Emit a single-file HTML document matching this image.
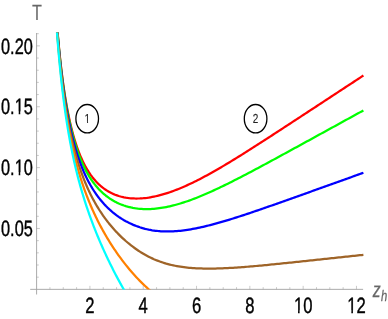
<!DOCTYPE html>
<html><head><meta charset="utf-8"><style>
html,body{margin:0;padding:0;background:#fff;}
svg{display:block;font-family:"Liberation Sans",sans-serif;text-rendering:geometricPrecision;}
</style></head><body>
<svg width="388" height="319" viewBox="0 0 388 319">
<rect width="388" height="319" fill="#fff"/>
<defs><clipPath id="c"><rect x="30" y="32.6" width="340" height="256.9"/></clipPath></defs>
<g stroke="#a0a0a0" stroke-width="0.9" fill="none">
<line x1="30.2" y1="289.35" x2="363.1" y2="289.35"/>
<line x1="36.6" y1="33.0" x2="36.6" y2="294.5"/>
<line x1="49.93" y1="289.35" x2="49.93" y2="287.15" stroke-width="0.55"/>
<line x1="63.26" y1="289.35" x2="63.26" y2="287.15" stroke-width="0.55"/>
<line x1="76.58" y1="289.35" x2="76.58" y2="287.15" stroke-width="0.55"/>
<line x1="89.91" y1="289.35" x2="89.91" y2="285.85" stroke-width="0.55"/>
<line x1="103.24" y1="289.35" x2="103.24" y2="287.15" stroke-width="0.55"/>
<line x1="116.57" y1="289.35" x2="116.57" y2="287.15" stroke-width="0.55"/>
<line x1="129.90" y1="289.35" x2="129.90" y2="287.15" stroke-width="0.55"/>
<line x1="143.22" y1="289.35" x2="143.22" y2="285.85" stroke-width="0.55"/>
<line x1="156.55" y1="289.35" x2="156.55" y2="287.15" stroke-width="0.55"/>
<line x1="169.88" y1="289.35" x2="169.88" y2="287.15" stroke-width="0.55"/>
<line x1="183.21" y1="289.35" x2="183.21" y2="287.15" stroke-width="0.55"/>
<line x1="196.54" y1="289.35" x2="196.54" y2="285.85" stroke-width="0.55"/>
<line x1="209.86" y1="289.35" x2="209.86" y2="287.15" stroke-width="0.55"/>
<line x1="223.19" y1="289.35" x2="223.19" y2="287.15" stroke-width="0.55"/>
<line x1="236.52" y1="289.35" x2="236.52" y2="287.15" stroke-width="0.55"/>
<line x1="249.85" y1="289.35" x2="249.85" y2="285.85" stroke-width="0.55"/>
<line x1="263.18" y1="289.35" x2="263.18" y2="287.15" stroke-width="0.55"/>
<line x1="276.50" y1="289.35" x2="276.50" y2="287.15" stroke-width="0.55"/>
<line x1="289.83" y1="289.35" x2="289.83" y2="287.15" stroke-width="0.55"/>
<line x1="303.16" y1="289.35" x2="303.16" y2="285.85" stroke-width="0.55"/>
<line x1="316.49" y1="289.35" x2="316.49" y2="287.15" stroke-width="0.55"/>
<line x1="329.82" y1="289.35" x2="329.82" y2="287.15" stroke-width="0.55"/>
<line x1="343.14" y1="289.35" x2="343.14" y2="287.15" stroke-width="0.55"/>
<line x1="356.47" y1="289.35" x2="356.47" y2="285.85" stroke-width="0.55"/>
<line x1="36.6" y1="277.18" x2="38.80" y2="277.18" stroke-width="0.55"/>
<line x1="36.6" y1="265.00" x2="38.80" y2="265.00" stroke-width="0.55"/>
<line x1="36.6" y1="252.83" x2="38.80" y2="252.83" stroke-width="0.55"/>
<line x1="36.6" y1="240.65" x2="38.80" y2="240.65" stroke-width="0.55"/>
<line x1="36.6" y1="228.48" x2="39.90" y2="228.48" stroke-width="0.55"/>
<line x1="36.6" y1="216.31" x2="38.80" y2="216.31" stroke-width="0.55"/>
<line x1="36.6" y1="204.13" x2="38.80" y2="204.13" stroke-width="0.55"/>
<line x1="36.6" y1="191.96" x2="38.80" y2="191.96" stroke-width="0.55"/>
<line x1="36.6" y1="179.78" x2="38.80" y2="179.78" stroke-width="0.55"/>
<line x1="36.6" y1="167.61" x2="39.90" y2="167.61" stroke-width="0.55"/>
<line x1="36.6" y1="155.44" x2="38.80" y2="155.44" stroke-width="0.55"/>
<line x1="36.6" y1="143.26" x2="38.80" y2="143.26" stroke-width="0.55"/>
<line x1="36.6" y1="131.09" x2="38.80" y2="131.09" stroke-width="0.55"/>
<line x1="36.6" y1="118.91" x2="38.80" y2="118.91" stroke-width="0.55"/>
<line x1="36.6" y1="106.74" x2="39.90" y2="106.74" stroke-width="0.55"/>
<line x1="36.6" y1="94.57" x2="38.80" y2="94.57" stroke-width="0.55"/>
<line x1="36.6" y1="82.39" x2="38.80" y2="82.39" stroke-width="0.55"/>
<line x1="36.6" y1="70.22" x2="38.80" y2="70.22" stroke-width="0.55"/>
<line x1="36.6" y1="58.04" x2="38.80" y2="58.04" stroke-width="0.55"/>
<line x1="36.6" y1="45.87" x2="39.90" y2="45.87" stroke-width="0.55"/>
<line x1="36.6" y1="33.70" x2="38.80" y2="33.70" stroke-width="0.55"/>
</g>
<g clip-path="url(#c)"><g fill="none" stroke-width="2.25" stroke-linejoin="round" transform="translate(0.4,0.4)">
<path d="M52.59 -38.85 L53.24 -26.53 L53.89 -15.14 L54.53 -4.59 L55.18 5.21 L55.82 14.34 L56.47 22.86 L57.12 30.83 L57.76 38.30 L58.41 45.31 L59.06 51.90 L59.70 58.12 L60.35 63.98 L60.99 69.52 L61.64 74.77 L62.29 79.74 L62.93 84.45 L63.58 88.92 L64.23 93.18 L64.87 97.23 L65.52 101.09 L66.16 104.77 L66.81 108.28 L67.46 111.64 L68.10 114.85 L68.75 117.92 L69.39 120.86 L70.04 123.67 L70.69 126.37 L71.33 128.96 L71.98 131.45 L72.63 133.84 L73.27 136.14 L73.92 138.35 L74.56 140.47 L75.21 142.51 L75.86 144.48 L76.50 146.38 L77.15 148.21 L77.80 149.97 L78.44 151.67 L79.09 153.32 L79.73 154.90 L80.38 156.43 L81.03 157.91 L81.67 159.34 L82.32 160.72 L82.97 162.05 L83.61 163.34 L84.26 164.59 L84.90 165.79 L85.55 166.96 L86.20 168.09 L86.84 169.18 L87.49 170.24 L88.13 171.27 L88.78 172.26 L89.43 173.22 L90.07 174.16 L90.72 175.06 L91.37 175.93 L92.01 176.78 L92.66 177.60 L93.30 178.40 L93.95 179.17 L94.60 179.91 L95.24 180.64 L95.89 181.34 L96.54 182.02 L97.18 182.68 L97.83 183.31 L98.47 183.93 L99.12 184.53 L99.77 185.11 L100.41 185.67 L101.06 186.22 L101.71 186.75 L102.35 187.26 L103.00 187.75 L103.64 188.23 L104.29 188.69 L104.94 189.14 L105.58 189.57 L106.23 189.99 L106.87 190.40 L107.52 190.79 L108.17 191.17 L108.81 191.53 L109.46 191.88 L110.11 192.22 L110.75 192.55 L111.40 192.87 L112.04 193.17 L112.69 193.47 L113.34 193.75 L113.98 194.02 L114.63 194.28 L115.28 194.53 L115.92 194.77 L116.57 195.00 L118.33 195.58 L120.09 196.10 L121.85 196.54 L123.61 196.93 L125.37 197.25 L127.13 197.52 L128.89 197.74 L130.65 197.90 L132.41 198.02 L134.17 198.09 L135.93 198.12 L137.69 198.10 L139.45 198.04 L141.21 197.93 L142.97 197.80 L144.73 197.62 L146.49 197.41 L148.25 197.16 L150.01 196.87 L151.77 196.56 L153.53 196.21 L155.29 195.84 L157.05 195.43 L158.81 194.99 L160.57 194.53 L162.33 194.04 L164.09 193.52 L165.85 192.98 L167.62 192.41 L169.38 191.82 L171.14 191.21 L172.90 190.57 L174.66 189.91 L176.42 189.23 L178.18 188.53 L179.94 187.81 L181.70 187.07 L183.46 186.31 L185.22 185.53 L186.98 184.74 L188.74 183.93 L190.50 183.10 L192.26 182.26 L194.02 181.40 L195.78 180.52 L197.54 179.63 L199.30 178.73 L201.06 177.82 L202.82 176.89 L204.58 175.95 L206.34 175.00 L208.10 174.04 L209.86 173.06 L211.62 172.08 L213.38 171.09 L215.14 170.09 L216.90 169.07 L218.66 168.05 L220.42 167.03 L222.18 165.99 L223.94 164.95 L225.70 163.90 L227.46 162.84 L229.22 161.78 L230.98 160.71 L232.74 159.63 L234.50 158.55 L236.26 157.47 L238.03 156.37 L239.79 155.28 L241.55 154.18 L243.31 153.08 L245.07 151.97 L246.83 150.86 L248.59 149.75 L250.35 148.63 L252.11 147.51 L253.87 146.39 L255.63 145.26 L257.39 144.14 L259.15 143.01 L260.91 141.88 L262.67 140.74 L264.43 139.61 L266.19 138.47 L267.95 137.33 L269.71 136.19 L271.47 135.05 L273.23 133.91 L274.99 132.76 L276.75 131.62 L278.51 130.47 L280.27 129.33 L282.03 128.18 L283.79 127.03 L285.55 125.88 L287.31 124.74 L289.07 123.59 L290.83 122.44 L292.59 121.28 L294.35 120.13 L296.11 118.98 L297.87 117.83 L299.63 116.68 L301.39 115.52 L303.15 114.37 L304.91 113.22 L306.67 112.07 L308.44 110.91 L310.20 109.76 L311.96 108.60 L313.72 107.45 L315.48 106.30 L317.24 105.14 L319.00 103.99 L320.76 102.83 L322.52 101.68 L324.28 100.52 L326.04 99.37 L327.80 98.21 L329.56 97.06 L331.32 95.90 L333.08 94.75 L334.84 93.59 L336.60 92.44 L338.36 91.28 L340.12 90.13 L341.88 88.97 L343.64 87.82 L345.40 86.66 L347.16 85.51 L348.92 84.35 L350.68 83.20 L352.44 82.04 L354.20 80.89 L355.96 79.73 L357.72 78.58 L359.48 77.42 L361.24 76.27 L363.00 75.11" stroke="#ff0000"/>
<path d="M52.59 -38.39 L53.24 -26.03 L53.89 -14.60 L54.53 -4.02 L55.18 5.82 L55.82 14.99 L56.47 23.55 L57.12 31.55 L57.76 39.06 L58.41 46.12 L59.06 52.76 L59.70 59.02 L60.35 64.93 L60.99 70.51 L61.64 75.80 L62.29 80.82 L62.93 85.58 L63.58 90.10 L64.23 94.41 L64.87 98.51 L65.52 102.42 L66.16 106.16 L66.81 109.72 L67.46 113.13 L68.10 116.40 L68.75 119.52 L69.39 122.52 L70.04 125.39 L70.69 128.15 L71.33 130.80 L71.98 133.35 L72.63 135.80 L73.27 138.15 L73.92 140.42 L74.56 142.61 L75.21 144.72 L75.86 146.75 L76.50 148.71 L77.15 150.61 L77.80 152.44 L78.44 154.20 L79.09 155.91 L79.73 157.56 L80.38 159.16 L81.03 160.71 L81.67 162.20 L82.32 163.65 L82.97 165.06 L83.61 166.42 L84.26 167.74 L84.90 169.02 L85.55 170.26 L86.20 171.46 L86.84 172.63 L87.49 173.76 L88.13 174.86 L88.78 175.93 L89.43 176.97 L90.07 177.97 L90.72 178.95 L91.37 179.90 L92.01 180.83 L92.66 181.73 L93.30 182.60 L93.95 183.45 L94.60 184.28 L95.24 185.08 L95.89 185.86 L96.54 186.62 L97.18 187.36 L97.83 188.08 L98.47 188.78 L99.12 189.46 L99.77 190.12 L100.41 190.77 L101.06 191.39 L101.71 192.01 L102.35 192.60 L103.00 193.18 L103.64 193.74 L104.29 194.29 L104.94 194.82 L105.58 195.34 L106.23 195.84 L106.87 196.33 L107.52 196.81 L108.17 197.27 L108.81 197.72 L109.46 198.16 L110.11 198.59 L110.75 199.00 L111.40 199.41 L112.04 199.80 L112.69 200.18 L113.34 200.55 L113.98 200.91 L114.63 201.26 L115.28 201.60 L115.92 201.92 L116.57 202.24 L118.33 203.06 L120.09 203.81 L121.85 204.50 L123.61 205.13 L125.37 205.70 L127.13 206.21 L128.89 206.66 L130.65 207.07 L132.41 207.43 L134.17 207.74 L135.93 208.00 L137.69 208.22 L139.45 208.39 L141.21 208.52 L142.97 208.62 L144.73 208.67 L146.49 208.69 L148.25 208.67 L150.01 208.61 L151.77 208.52 L153.53 208.40 L155.29 208.24 L157.05 208.05 L158.81 207.83 L160.57 207.58 L162.33 207.30 L164.09 206.99 L165.85 206.66 L167.62 206.30 L169.38 205.91 L171.14 205.50 L172.90 205.06 L174.66 204.60 L176.42 204.12 L178.18 203.62 L179.94 203.09 L181.70 202.55 L183.46 201.98 L185.22 201.40 L186.98 200.80 L188.74 200.18 L190.50 199.54 L192.26 198.89 L194.02 198.22 L195.78 197.53 L197.54 196.83 L199.30 196.12 L201.06 195.40 L202.82 194.66 L204.58 193.91 L206.34 193.15 L208.10 192.37 L209.86 191.59 L211.62 190.79 L213.38 189.99 L215.14 189.18 L216.90 188.35 L218.66 187.52 L220.42 186.68 L222.18 185.84 L223.94 184.98 L225.70 184.12 L227.46 183.25 L229.22 182.38 L230.98 181.50 L232.74 180.61 L234.50 179.72 L236.26 178.82 L238.03 177.92 L239.79 177.02 L241.55 176.11 L243.31 175.19 L245.07 174.27 L246.83 173.35 L248.59 172.43 L250.35 171.50 L252.11 170.57 L253.87 169.63 L255.63 168.70 L257.39 167.76 L259.15 166.82 L260.91 165.87 L262.67 164.93 L264.43 163.98 L266.19 163.03 L267.95 162.08 L269.71 161.13 L271.47 160.18 L273.23 159.23 L274.99 158.27 L276.75 157.31 L278.51 156.36 L280.27 155.40 L282.03 154.44 L283.79 153.48 L285.55 152.52 L287.31 151.56 L289.07 150.60 L290.83 149.64 L292.59 148.67 L294.35 147.71 L296.11 146.75 L297.87 145.78 L299.63 144.82 L301.39 143.85 L303.15 142.89 L304.91 141.93 L306.67 140.96 L308.44 140.00 L310.20 139.03 L311.96 138.06 L313.72 137.10 L315.48 136.13 L317.24 135.17 L319.00 134.20 L320.76 133.23 L322.52 132.27 L324.28 131.30 L326.04 130.33 L327.80 129.37 L329.56 128.40 L331.32 127.44 L333.08 126.47 L334.84 125.50 L336.60 124.53 L338.36 123.57 L340.12 122.60 L341.88 121.63 L343.64 120.67 L345.40 119.70 L347.16 118.73 L348.92 117.77 L350.68 116.80 L352.44 115.83 L354.20 114.87 L355.96 113.90 L357.72 112.93 L359.48 111.97 L361.24 111.00 L363.00 110.03" stroke="#00ff00"/>
<path d="M52.59 -37.55 L53.24 -25.13 L53.89 -13.65 L54.53 -2.99 L55.18 6.91 L55.82 16.14 L56.47 24.77 L57.12 32.85 L57.76 40.44 L58.41 47.57 L59.06 54.28 L59.70 60.62 L60.35 66.61 L60.99 72.28 L61.64 77.65 L62.29 82.75 L62.93 87.60 L63.58 92.21 L64.23 96.61 L64.87 100.80 L65.52 104.80 L66.16 108.63 L66.81 112.29 L67.46 115.80 L68.10 119.16 L68.75 122.38 L69.39 125.48 L70.04 128.46 L70.69 131.32 L71.33 134.07 L71.98 136.73 L72.63 139.28 L73.27 141.75 L73.92 144.13 L74.56 146.43 L75.21 148.65 L75.86 150.80 L76.50 152.87 L77.15 154.88 L77.80 156.83 L78.44 158.71 L79.09 160.54 L79.73 162.32 L80.38 164.03 L81.03 165.70 L81.67 167.32 L82.32 168.90 L82.97 170.43 L83.61 171.92 L84.26 173.36 L84.90 174.77 L85.55 176.14 L86.20 177.48 L86.84 178.77 L87.49 180.04 L88.13 181.27 L88.78 182.48 L89.43 183.65 L90.07 184.79 L90.72 185.91 L91.37 187.00 L92.01 188.06 L92.66 189.10 L93.30 190.11 L93.95 191.10 L94.60 192.07 L95.24 193.01 L95.89 193.94 L96.54 194.84 L97.18 195.72 L97.83 196.59 L98.47 197.43 L99.12 198.26 L99.77 199.07 L100.41 199.86 L101.06 200.64 L101.71 201.40 L102.35 202.14 L103.00 202.87 L103.64 203.58 L104.29 204.28 L104.94 204.96 L105.58 205.63 L106.23 206.28 L106.87 206.93 L107.52 207.56 L108.17 208.17 L108.81 208.78 L109.46 209.37 L110.11 209.95 L110.75 210.52 L111.40 211.08 L112.04 211.63 L112.69 212.16 L113.34 212.69 L113.98 213.20 L114.63 213.71 L115.28 214.20 L115.92 214.69 L116.57 215.16 L118.33 216.41 L120.09 217.59 L121.85 218.71 L123.61 219.77 L125.37 220.77 L127.13 221.71 L128.89 222.60 L130.65 223.43 L132.41 224.22 L134.17 224.95 L135.93 225.64 L137.69 226.28 L139.45 226.88 L141.21 227.43 L142.97 227.94 L144.73 228.41 L146.49 228.83 L148.25 229.22 L150.01 229.56 L151.77 229.87 L153.53 230.14 L155.29 230.38 L157.05 230.58 L158.81 230.74 L160.57 230.88 L162.33 230.97 L164.09 231.04 L165.85 231.08 L167.62 231.08 L169.38 231.06 L171.14 231.01 L172.90 230.94 L174.66 230.83 L176.42 230.70 L178.18 230.55 L179.94 230.38 L181.70 230.18 L183.46 229.96 L185.22 229.72 L186.98 229.46 L188.74 229.18 L190.50 228.89 L192.26 228.58 L194.02 228.25 L195.78 227.90 L197.54 227.54 L199.30 227.17 L201.06 226.78 L202.82 226.38 L204.58 225.97 L206.34 225.54 L208.10 225.11 L209.86 224.66 L211.62 224.20 L213.38 223.74 L215.14 223.26 L216.90 222.77 L218.66 222.28 L220.42 221.78 L222.18 221.27 L223.94 220.75 L225.70 220.23 L227.46 219.70 L229.22 219.16 L230.98 218.62 L232.74 218.07 L234.50 217.51 L236.26 216.95 L238.03 216.39 L239.79 215.82 L241.55 215.25 L243.31 214.67 L245.07 214.09 L246.83 213.50 L248.59 212.92 L250.35 212.32 L252.11 211.73 L253.87 211.13 L255.63 210.53 L257.39 209.93 L259.15 209.33 L260.91 208.72 L262.67 208.11 L264.43 207.50 L266.19 206.89 L267.95 206.27 L269.71 205.66 L271.47 205.04 L273.23 204.42 L274.99 203.81 L276.75 203.19 L278.51 202.56 L280.27 201.94 L282.03 201.32 L283.79 200.70 L285.55 200.07 L287.31 199.45 L289.07 198.82 L290.83 198.20 L292.59 197.57 L294.35 196.94 L296.11 196.32 L297.87 195.69 L299.63 195.06 L301.39 194.43 L303.15 193.80 L304.91 193.18 L306.67 192.55 L308.44 191.92 L310.20 191.29 L311.96 190.66 L313.72 190.03 L315.48 189.40 L317.24 188.77 L319.00 188.14 L320.76 187.51 L322.52 186.88 L324.28 186.25 L326.04 185.62 L327.80 184.99 L329.56 184.36 L331.32 183.73 L333.08 183.10 L334.84 182.47 L336.60 181.84 L338.36 181.21 L340.12 180.57 L341.88 179.94 L343.64 179.31 L345.40 178.68 L347.16 178.05 L348.92 177.42 L350.68 176.79 L352.44 176.16 L354.20 175.53 L355.96 174.90 L357.72 174.27 L359.48 173.64 L361.24 173.01 L363.00 172.37" stroke="#0000ff"/>
<path d="M52.59 -36.45 L53.24 -23.95 L53.89 -12.38 L54.53 -1.65 L55.18 8.34 L55.82 17.67 L56.47 26.39 L57.12 34.56 L57.76 42.24 L58.41 49.47 L59.06 56.29 L59.70 62.73 L60.35 68.82 L60.99 74.60 L61.64 80.08 L62.29 85.29 L62.93 90.26 L63.58 94.98 L64.23 99.50 L64.87 103.81 L65.52 107.94 L66.16 111.89 L66.81 115.67 L67.46 119.31 L68.10 122.80 L68.75 126.15 L69.39 129.38 L70.04 132.49 L70.69 135.49 L71.33 138.39 L71.98 141.18 L72.63 143.88 L73.27 146.49 L73.92 149.01 L74.56 151.46 L75.21 153.82 L75.86 156.12 L76.50 158.35 L77.15 160.51 L77.80 162.61 L78.44 164.65 L79.09 166.64 L79.73 168.57 L80.38 170.45 L81.03 172.28 L81.67 174.06 L82.32 175.80 L82.97 177.50 L83.61 179.15 L84.26 180.77 L84.90 182.35 L85.55 183.89 L86.20 185.39 L86.84 186.86 L87.49 188.30 L88.13 189.71 L88.78 191.09 L89.43 192.44 L90.07 193.77 L90.72 195.06 L91.37 196.33 L92.01 197.58 L92.66 198.80 L93.30 199.99 L93.95 201.17 L94.60 202.32 L95.24 203.45 L95.89 204.57 L96.54 205.66 L97.18 206.73 L97.83 207.79 L98.47 208.82 L99.12 209.84 L99.77 210.84 L100.41 211.83 L101.06 212.80 L101.71 213.75 L102.35 214.69 L103.00 215.62 L103.64 216.53 L104.29 217.42 L104.94 218.30 L105.58 219.17 L106.23 220.03 L106.87 220.87 L107.52 221.70 L108.17 222.52 L108.81 223.33 L109.46 224.12 L110.11 224.91 L110.75 225.68 L111.40 226.44 L112.04 227.19 L112.69 227.93 L113.34 228.66 L113.98 229.39 L114.63 230.10 L115.28 230.80 L115.92 231.49 L116.57 232.17 L118.33 233.98 L120.09 235.73 L121.85 237.42 L123.61 239.04 L125.37 240.61 L127.13 242.11 L128.89 243.57 L130.65 244.97 L132.41 246.32 L134.17 247.61 L135.93 248.86 L137.69 250.06 L139.45 251.21 L141.21 252.31 L142.97 253.37 L144.73 254.38 L146.49 255.34 L148.25 256.26 L150.01 257.14 L151.77 257.97 L153.53 258.77 L155.29 259.52 L157.05 260.23 L158.81 260.90 L160.57 261.54 L162.33 262.13 L164.09 262.69 L165.85 263.22 L167.62 263.71 L169.38 264.17 L171.14 264.59 L172.90 264.99 L174.66 265.35 L176.42 265.69 L178.18 266.00 L179.94 266.29 L181.70 266.55 L183.46 266.78 L185.22 267.00 L186.98 267.19 L188.74 267.36 L190.50 267.52 L192.26 267.65 L194.02 267.77 L195.78 267.87 L197.54 267.96 L199.30 268.03 L201.06 268.09 L202.82 268.13 L204.58 268.16 L206.34 268.18 L208.10 268.19 L209.86 268.19 L211.62 268.17 L213.38 268.15 L215.14 268.12 L216.90 268.08 L218.66 268.03 L220.42 267.97 L222.18 267.90 L223.94 267.83 L225.70 267.75 L227.46 267.66 L229.22 267.57 L230.98 267.47 L232.74 267.37 L234.50 267.26 L236.26 267.14 L238.03 267.02 L239.79 266.89 L241.55 266.76 L243.31 266.63 L245.07 266.49 L246.83 266.35 L248.59 266.21 L250.35 266.06 L252.11 265.91 L253.87 265.75 L255.63 265.60 L257.39 265.44 L259.15 265.27 L260.91 265.11 L262.67 264.94 L264.43 264.78 L266.19 264.61 L267.95 264.44 L269.71 264.26 L271.47 264.09 L273.23 263.91 L274.99 263.74 L276.75 263.56 L278.51 263.38 L280.27 263.20 L282.03 263.02 L283.79 262.84 L285.55 262.66 L287.31 262.48 L289.07 262.29 L290.83 262.11 L292.59 261.93 L294.35 261.74 L296.11 261.56 L297.87 261.37 L299.63 261.19 L301.39 261.00 L303.15 260.81 L304.91 260.63 L306.67 260.44 L308.44 260.25 L310.20 260.07 L311.96 259.88 L313.72 259.69 L315.48 259.51 L317.24 259.32 L319.00 259.13 L320.76 258.94 L322.52 258.76 L324.28 258.57 L326.04 258.38 L327.80 258.19 L329.56 258.00 L331.32 257.82 L333.08 257.63 L334.84 257.44 L336.60 257.25 L338.36 257.06 L340.12 256.88 L341.88 256.69 L343.64 256.50 L345.40 256.31 L347.16 256.12 L348.92 255.93 L350.68 255.75 L352.44 255.56 L354.20 255.37 L355.96 255.18 L357.72 254.99 L359.48 254.81 L361.24 254.62 L363.00 254.43" stroke="#9f6428"/>
<path d="M52.59 -35.13 L53.24 -22.53 L53.89 -10.87 L54.53 -0.03 L55.18 10.07 L55.82 19.50 L56.47 28.33 L57.12 36.62 L57.76 44.42 L58.41 51.76 L59.06 58.70 L59.70 65.27 L60.35 71.49 L60.99 77.39 L61.64 83.01 L62.29 88.36 L62.93 93.45 L63.58 98.32 L64.23 102.98 L64.87 107.43 L65.52 111.71 L66.16 115.80 L66.81 119.74 L67.46 123.53 L68.10 127.18 L68.75 130.69 L69.39 134.08 L70.04 137.35 L70.69 140.52 L71.33 143.57 L71.98 146.54 L72.63 149.41 L73.27 152.19 L73.92 154.89 L74.56 157.51 L75.21 160.05 L75.86 162.53 L76.50 164.94 L77.15 167.29 L77.80 169.57 L78.44 171.80 L79.09 173.98 L79.73 176.10 L80.38 178.17 L81.03 180.20 L81.67 182.18 L82.32 184.11 L82.97 186.01 L83.61 187.86 L84.26 189.68 L84.90 191.46 L85.55 193.21 L86.20 194.92 L86.84 196.60 L87.49 198.25 L88.13 199.87 L88.78 201.46 L89.43 203.03 L90.07 204.57 L90.72 206.08 L91.37 207.57 L92.01 209.03 L92.66 210.47 L93.30 211.89 L93.95 213.29 L94.60 214.67 L95.24 216.02 L95.89 217.36 L96.54 218.68 L97.18 219.98 L97.83 221.27 L98.47 222.53 L99.12 223.78 L99.77 225.02 L100.41 226.24 L101.06 227.44 L101.71 228.63 L102.35 229.80 L103.00 230.96 L103.64 232.11 L104.29 233.25 L104.94 234.37 L105.58 235.48 L106.23 236.57 L106.87 237.66 L107.52 238.73 L108.17 239.79 L108.81 240.84 L109.46 241.88 L110.11 242.91 L110.75 243.93 L111.40 244.93 L112.04 245.93 L112.69 246.92 L113.34 247.90 L113.98 248.86 L114.63 249.82 L115.28 250.77 L115.92 251.71 L116.57 252.64 L118.33 255.13 L120.09 257.56 L121.85 259.93 L123.61 262.23 L125.37 264.48 L127.13 266.67 L128.89 268.81 L130.65 270.89 L132.41 272.92 L134.17 274.89 L135.93 276.81 L137.69 278.68 L139.45 280.50 L141.21 282.26 L142.97 283.98 L144.73 285.64 L146.49 287.25 L148.25 288.82 L150.01 290.33 L151.77 291.80 L153.53 293.22 L155.29 294.59 L157.05 295.92 L158.81 297.20 L160.57 298.44 L162.33 299.63 L164.09 300.79 L165.85 301.90 L167.62 302.97 L169.38 304.01 L171.14 305.01 L172.90 305.97 L174.66 306.90 L176.42 307.80 L178.18 308.67 L179.94 309.51 L181.70 310.32 L183.46 311.11 L185.22 311.87 L186.98 312.60 L188.74 313.32 L190.50 314.01 L192.26 314.69 L194.02 315.34 L195.78 315.98 L197.54 316.60 L199.30 317.21 L201.06 317.80 L202.82 318.38 L204.58 318.95 L206.34 319.50 L208.10 320.05 L209.86 320.58 L211.62 321.10 L213.38 321.61 L215.14 322.11 L216.90 322.60 L218.66 323.09 L220.42 323.57 L222.18 324.03 L223.94 324.50 L225.70 324.95 L227.46 325.40 L229.22 325.84 L230.98 326.27 L232.74 326.70 L234.50 327.13 L236.26 327.55 L238.03 327.96 L239.79 328.37 L241.55 328.77 L243.31 329.17 L245.07 329.57 L246.83 329.96 L248.59 330.35 L250.35 330.73 L252.11 331.12 L253.87 331.50 L255.63 331.87 L257.39 332.25 L259.15 332.62 L260.91 332.99 L262.67 333.35 L264.43 333.72 L266.19 334.08 L267.95 334.44 L269.71 334.80 L271.47 335.16 L273.23 335.52 L274.99 335.87 L276.75 336.23 L278.51 336.58 L280.27 336.94 L282.03 337.29 L283.79 337.64 L285.55 337.99 L287.31 338.34 L289.07 338.69 L290.83 339.04 L292.59 339.39 L294.35 339.74 L296.11 340.08 L297.87 340.43 L299.63 340.78 L301.39 341.12 L303.15 341.47 L304.91 341.82 L306.67 342.16 L308.44 342.51 L310.20 342.85 L311.96 343.20 L313.72 343.55 L315.48 343.89 L317.24 344.24 L319.00 344.58 L320.76 344.93 L322.52 345.27 L324.28 345.62 L326.04 345.96 L327.80 346.30 L329.56 346.65 L331.32 346.99 L333.08 347.34 L334.84 347.68 L336.60 348.03 L338.36 348.37 L340.12 348.72 L341.88 349.06 L343.64 349.41 L345.40 349.75 L347.16 350.09 L348.92 350.44 L350.68 350.78 L352.44 351.13 L354.20 351.47 L355.96 351.82 L357.72 352.16 L359.48 352.50 L361.24 352.85 L363.00 353.19" stroke="#ff8000"/>
<path d="M52.59 -33.58 L53.24 -20.87 L53.89 -9.08 L54.53 1.88 L55.18 12.10 L55.82 21.66 L56.47 30.62 L57.12 39.04 L57.76 46.97 L58.41 54.46 L59.06 61.54 L59.70 68.25 L60.35 74.62 L60.99 80.68 L61.64 86.45 L62.29 91.96 L62.93 97.21 L63.58 102.25 L64.23 107.07 L64.87 111.69 L65.52 116.14 L66.16 120.41 L66.81 124.53 L67.46 128.50 L68.10 132.32 L68.75 136.02 L69.39 139.60 L70.04 143.07 L70.69 146.42 L71.33 149.68 L71.98 152.83 L72.63 155.90 L73.27 158.89 L73.92 161.79 L74.56 164.62 L75.21 167.38 L75.86 170.07 L76.50 172.69 L77.15 175.25 L77.80 177.76 L78.44 180.21 L79.09 182.60 L79.73 184.95 L80.38 187.25 L81.03 189.50 L81.67 191.71 L82.32 193.88 L82.97 196.01 L83.61 198.10 L84.26 200.16 L84.90 202.18 L85.55 204.17 L86.20 206.12 L86.84 208.05 L87.49 209.95 L88.13 211.82 L88.78 213.66 L89.43 215.47 L90.07 217.26 L90.72 219.03 L91.37 220.77 L92.01 222.50 L92.66 224.20 L93.30 225.88 L93.95 227.54 L94.60 229.18 L95.24 230.80 L95.89 232.40 L96.54 233.99 L97.18 235.56 L97.83 237.11 L98.47 238.65 L99.12 240.17 L99.77 241.68 L100.41 243.17 L101.06 244.65 L101.71 246.12 L102.35 247.57 L103.00 249.01 L103.64 250.44 L104.29 251.85 L104.94 253.25 L105.58 254.64 L106.23 256.02 L106.87 257.39 L107.52 258.75 L108.17 260.09 L108.81 261.43 L109.46 262.76 L110.11 264.07 L110.75 265.38 L111.40 266.67 L112.04 267.96 L112.69 269.24 L113.34 270.50 L113.98 271.76 L114.63 273.01 L115.28 274.25 L115.92 275.49 L116.57 276.71 L118.33 280.00 L120.09 283.23 L121.85 286.40 L123.61 289.50 L125.37 292.56 L127.13 295.55 L128.89 298.49 L130.65 301.37 L132.41 304.19 L134.17 306.96 L135.93 309.67 L137.69 312.33 L139.45 314.93 L141.21 317.47 L142.97 319.96 L144.73 322.39 L146.49 324.77 L148.25 327.09 L150.01 329.36 L151.77 331.57 L153.53 333.73 L155.29 335.83 L157.05 337.88 L158.81 339.88 L160.57 341.83 L162.33 343.73 L164.09 345.58 L165.85 347.38 L167.62 349.14 L169.38 350.86 L171.14 352.53 L172.90 354.16 L174.66 355.76 L176.42 357.31 L178.18 358.84 L179.94 360.33 L181.70 361.79 L183.46 363.22 L185.22 364.62 L186.98 366.00 L188.74 367.35 L190.50 368.68 L192.26 369.99 L194.02 371.27 L195.78 372.54 L197.54 373.80 L199.30 375.04 L201.06 376.26 L202.82 377.47 L204.58 378.66 L206.34 379.84 L208.10 381.01 L209.86 382.17 L211.62 383.32 L213.38 384.46 L215.14 385.59 L216.90 386.71 L218.66 387.83 L220.42 388.93 L222.18 390.03 L223.94 391.12 L225.70 392.20 L227.46 393.28 L229.22 394.35 L230.98 395.41 L232.74 396.47 L234.50 397.52 L236.26 398.57 L238.03 399.61 L239.79 400.64 L241.55 401.68 L243.31 402.70 L245.07 403.73 L246.83 404.75 L248.59 405.76 L250.35 406.77 L252.11 407.78 L253.87 408.79 L255.63 409.79 L257.39 410.79 L259.15 411.79 L260.91 412.79 L262.67 413.78 L264.43 414.77 L266.19 415.76 L267.95 416.75 L269.71 417.73 L271.47 418.72 L273.23 419.70 L274.99 420.68 L276.75 421.67 L278.51 422.65 L280.27 423.63 L282.03 424.60 L283.79 425.58 L285.55 426.56 L287.31 427.53 L289.07 428.51 L290.83 429.48 L292.59 430.46 L294.35 431.43 L296.11 432.41 L297.87 433.38 L299.63 434.35 L301.39 435.33 L303.15 436.30 L304.91 437.27 L306.67 438.24 L308.44 439.22 L310.20 440.19 L311.96 441.16 L313.72 442.13 L315.48 443.10 L317.24 444.07 L319.00 445.04 L320.76 446.02 L322.52 446.99 L324.28 447.96 L326.04 448.93 L327.80 449.90 L329.56 450.87 L331.32 451.84 L333.08 452.81 L334.84 453.78 L336.60 454.75 L338.36 455.72 L340.12 456.69 L341.88 457.66 L343.64 458.64 L345.40 459.61 L347.16 460.58 L348.92 461.55 L350.68 462.52 L352.44 463.49 L354.20 464.46 L355.96 465.43 L357.72 466.40 L359.48 467.37 L361.24 468.34 L363.00 469.31" stroke="#00ffff"/>
</g></g>
<ellipse cx="87.2" cy="118.7" rx="11.3" ry="14.2" fill="none" stroke="#000" stroke-width="1.3"/>
<ellipse cx="255.6" cy="118.7" rx="11.3" ry="14.2" fill="none" stroke="#000" stroke-width="1.3"/>
<g opacity="0.999">
<g transform="translate(87.40,123.35) scale(1.0,1.3)"><text text-anchor="middle" font-size="10" fill="#222" stroke="#222" stroke-width="0.1" >1</text><rect x="-3.171" y="-1.318" width="2.871" height="2.318" fill="#fff"/><rect x="0.652" y="-1.318" width="2.256" height="2.318" fill="#fff"/></g>
<g transform="translate(255.60,123.35) scale(1.0,1.3)"><text text-anchor="middle" font-size="10" fill="#222" stroke="#222" stroke-width="0.1" >2</text></g>
<g transform="translate(32.80,236.18) scale(1.02,1.38)"><text text-anchor="end" font-size="16" fill="#000" stroke="#000" stroke-width="0.3" >0.05</text></g>
<g transform="translate(32.80,175.31) scale(1.02,1.38)"><text text-anchor="end" font-size="16" fill="#000" stroke="#000" stroke-width="0.3" >0.10</text><rect x="-18.422" y="-2.109" width="4.594" height="3.109" fill="#fff"/><rect x="-12.305" y="-2.109" width="3.609" height="3.109" fill="#fff"/></g>
<g transform="translate(32.80,114.44) scale(1.02,1.38)"><text text-anchor="end" font-size="16" fill="#000" stroke="#000" stroke-width="0.3" >0.15</text><rect x="-18.422" y="-2.109" width="4.594" height="3.109" fill="#fff"/><rect x="-12.305" y="-2.109" width="3.609" height="3.109" fill="#fff"/></g>
<g transform="translate(32.80,53.57) scale(1.02,1.38)"><text text-anchor="end" font-size="16" fill="#000" stroke="#000" stroke-width="0.3" >0.20</text></g>
<g transform="translate(89.91,313.40) scale(1.04,1.38)"><text text-anchor="middle" font-size="16" fill="#000" stroke="#000" stroke-width="0.3" >2</text></g>
<g transform="translate(143.22,313.40) scale(1.04,1.38)"><text text-anchor="middle" font-size="16" fill="#000" stroke="#000" stroke-width="0.3" >4</text></g>
<g transform="translate(196.54,313.40) scale(1.04,1.38)"><text text-anchor="middle" font-size="16" fill="#000" stroke="#000" stroke-width="0.3" >6</text></g>
<g transform="translate(249.85,313.40) scale(1.04,1.38)"><text text-anchor="middle" font-size="16" fill="#000" stroke="#000" stroke-width="0.3" >8</text></g>
<g transform="translate(303.16,313.40) scale(1.04,1.38)"><text text-anchor="middle" font-size="16" fill="#000" stroke="#000" stroke-width="0.3" >10</text><rect x="-9.523" y="-2.109" width="4.594" height="3.109" fill="#fff"/><rect x="-3.406" y="-2.109" width="3.609" height="3.109" fill="#fff"/></g>
<g transform="translate(356.47,313.40) scale(1.04,1.38)"><text text-anchor="middle" font-size="16" fill="#000" stroke="#000" stroke-width="0.3" >12</text><rect x="-9.523" y="-2.109" width="4.594" height="3.109" fill="#fff"/><rect x="-3.406" y="-2.109" width="3.609" height="3.109" fill="#fff"/></g>
<g transform="translate(36.90,20.30) scale(1.02,1.38)"><text text-anchor="middle" font-size="16" fill="#666" stroke="#666" stroke-width="0" >T</text></g>
<text transform="translate(372.7,296.7) scale(1.02,1.39)" font-size="15.5" fill="#666" stroke="#666" stroke-width="0.2" font-style="italic">z<tspan font-size="11" dy="3.2" dx="0.3">h</tspan></text>
</g>
</svg>
</body></html>
